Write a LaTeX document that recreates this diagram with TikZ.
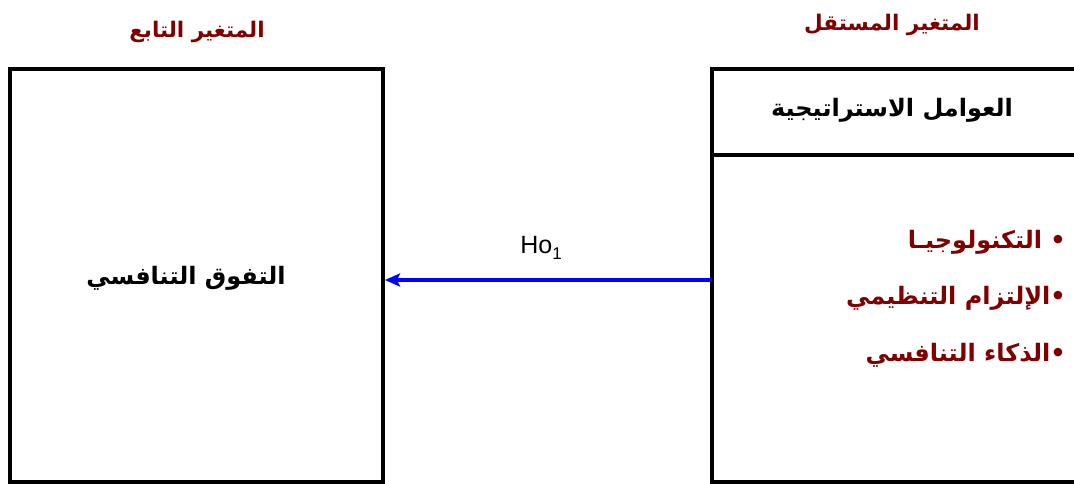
\documentclass[tikz,border=0pt]{standalone}
\usepackage{fontspec}
\setmainfont{Liberation Sans}
\newfontfamily\arabicfont[Script=Arabic]{DejaVu Sans}
\TeXXeTstate=1
\usetikzlibrary{arrows.meta}
\definecolor{darkred}{HTML}{800000}
\definecolor{arrowblue}{HTML}{0000FF}
\tikzset{
  box/.style={draw=black, line width=4pt, fill=white, inner sep=0pt},
  title/.style={text=darkred, font=\arabicfont\bfseries\fontsize{21.5}{26}\selectfont, inner sep=0pt},
  blacktext/.style={text=black, font=\arabicfont\bfseries\fontsize{24}{28}\selectfont, inner sep=0pt},
  item/.style={text=darkred, font=\arabicfont\bfseries\fontsize{24}{28}\selectfont, inner sep=0pt, anchor=east},
  arr/.style={draw=arrowblue, line width=3.5pt, -{Stealth[length=15pt,width=13pt,inset=3pt]}},
  lbl/.style={font=\fontsize{25}{30}\selectfont, inner sep=0pt}
}
\begin{document}
\begin{tikzpicture}[x=1pt,y=-1pt]
\useasboundingbox (0,0) rectangle (1074,484);
% dependent variable box
\node[box, anchor=north west, minimum width=373pt, minimum height=413pt] (dep) at (8,67) {};
% independent variable box (extends beyond right edge)
\node[box, anchor=north west, minimum width=390pt, minimum height=413pt] (ind) at (710,67) {};
\node[box, anchor=north west, minimum width=390pt, minimum height=86pt] (hdr) at (710,67) {};
% titles
\node[title] (tdep) at (197,32) {\beginR المتغير التابع\endR};
\node[title] (tind) at (892,25) {\beginR المتغير المستقل\endR};
% header text
\node[blacktext] (hdrtext) at (892,110) {\beginR العوامل الاستراتيجية\endR};
% dependent text
\node[blacktext] (deptext) at (186,278) {\beginR التفوق التنافسي\endR};
% items
\node[item] (i1) at (1066,242) {\beginR • التكنولوجيـا\endR};
\node[item] (i2) at (1066,298) {\beginR •الإلتزام التنظيمي\endR};
\node[item] (i3) at (1066,355) {\beginR •الذكاء التنافسي\endR};
% arrow
\coordinate (astart) at (712,280);
\draw[arr] (astart) -- (dep.east |- astart);
\node[lbl] (ho) at (541,248) {Ho\raisebox{-6pt}{\fontsize{17}{20}\selectfont 1}};
\end{tikzpicture}
\end{document}
